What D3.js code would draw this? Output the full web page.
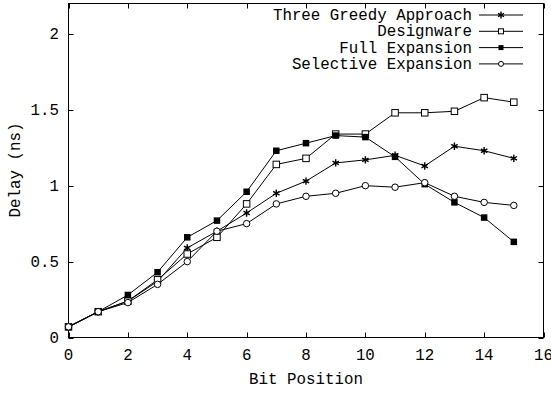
<!DOCTYPE html>
<html>
<head>
<meta charset="utf-8">
<script src="https://cdn.jsdelivr.net/npm/d3@7"></script>
<style>
  body { margin: 0; background: #fff; }
  svg text { font-family: "Liberation Mono", "DejaVu Sans Mono", monospace; fill: #000; }
</style>
</head>
<body>
<svg id="chart" width="551" height="394"></svg>
<script>
"use strict";

const bits = [0, 1, 2, 3, 4, 5, 6, 7, 8, 9, 10, 11, 12, 13, 14, 15];
const threeGreedy = [0.07, 0.17, 0.24, 0.37, 0.59, 0.70, 0.82, 0.95, 1.03, 1.15, 1.17, 1.20, 1.13, 1.26, 1.23, 1.18];
const designware = [0.07, 0.17, 0.24, 0.38, 0.55, 0.66, 0.88, 1.14, 1.18, 1.34, 1.34, 1.48, 1.48, 1.49, 1.58, 1.55];
const fullExpansion = [0.07, 0.17, 0.28, 0.43, 0.66, 0.77, 0.96, 1.23, 1.28, 1.33, 1.32, 1.19, 1.01, 0.89, 0.79, 0.63];
const selectiveExpansion = [0.07, 0.17, 0.23, 0.35, 0.50, 0.70, 0.75, 0.88, 0.93, 0.95, 1.00, 0.99, 1.02, 0.93, 0.89, 0.87];

const xTicks = [0, 2, 4, 6, 8, 10, 12, 14, 16];
const yTicks = [0, 0.5, 1, 1.5, 2];

const series = [
  { name: "Three Greedy Approach", values: threeGreedy, marker: "star" },
  { name: "Designware", values: designware, marker: "openSquare" },
  { name: "Full Expansion", values: fullExpansion, marker: "filledSquare" },
  { name: "Selective Expansion", values: selectiveExpansion, marker: "openCircle" }
];

const svg = d3.select("#chart");
const plotLeft = 68.5, plotRight = 543.5, plotTop = 3.5, plotBottom = 337.5;

const x = d3.scaleLinear().domain([0, 16]).range([plotLeft, plotRight]);
const y = d3.scaleLinear().domain([0, 2.2]).range([plotBottom, plotTop]);

const fontSize = 15.8;
const tickLen = 5;

// frame
svg.append("rect")
  .attr("x", plotLeft).attr("y", plotTop)
  .attr("width", plotRight - plotLeft).attr("height", plotBottom - plotTop)
  .attr("fill", "none").attr("stroke", "#000").attr("stroke-width", 1);

// x ticks (inside, mirrored on top)
const xt = svg.append("g");
xTicks.forEach(t => {
  const px = Math.round(x(t)) + 0.5;
  xt.append("line").attr("x1", px).attr("x2", px).attr("y1", plotBottom).attr("y2", plotBottom - tickLen).attr("stroke", "#000");
  xt.append("line").attr("x1", px).attr("x2", px).attr("y1", plotTop).attr("y2", plotTop + tickLen).attr("stroke", "#000");
  xt.append("text")
    .attr("x", x(t)).attr("y", 360)
    .attr("text-anchor", "middle")
    .style("font-size", fontSize + "px")
    .text(t);
});

const yt = svg.append("g");
yTicks.forEach(t => {
  const py = Math.round(y(t)) + 0.5;
  yt.append("line").attr("x1", plotLeft).attr("x2", plotLeft + tickLen).attr("y1", py).attr("y2", py).attr("stroke", "#000");
  yt.append("line").attr("x1", plotRight).attr("x2", plotRight - tickLen).attr("y1", py).attr("y2", py).attr("stroke", "#000");
  yt.append("text")
    .attr("x", 59).attr("y", y(t) + 5)
    .attr("text-anchor", "end")
    .style("font-size", fontSize + "px")
    .text(t);
});

// axis labels
svg.append("text")
  .attr("x", 306).attr("y", 384)
  .attr("text-anchor", "middle")
  .style("font-size", fontSize + "px")
  .text("Bit Position");

svg.append("text")
  .attr("transform", "translate(20, 170) rotate(-90)")
  .attr("text-anchor", "middle")
  .style("font-size", fontSize + "px")
  .text("Delay (ns)");

function drawMarker(g, kind, cx, cy, s) {
  const h = s / 2;
  if (kind === "star") {
    g.append("path")
      .attr("d", d3.symbol(d3.symbolAsterisk, s * s * 0.9)())
      .attr("transform", `translate(${cx},${cy})`)
      .attr("fill", "none").attr("stroke", "#000").attr("stroke-width", 1.4);
  } else if (kind === "openSquare") {
    g.append("rect")
      .attr("x", cx - h).attr("y", cy - h).attr("width", s).attr("height", s)
      .attr("fill", "#fff").attr("stroke", "#000").attr("stroke-width", 1);
  } else if (kind === "filledSquare") {
    g.append("rect")
      .attr("x", cx - h).attr("y", cy - h).attr("width", s).attr("height", s)
      .attr("fill", "#000");
  } else {
    g.append("circle")
      .attr("cx", cx).attr("cy", cy).attr("r", h)
      .attr("fill", "#fff").attr("stroke", "#000").attr("stroke-width", 1);
  }
}

const line = d3.line()
  .x((d, i) => x(bits[i]))
  .y(d => y(d));

series.forEach(s => {
  const g = svg.append("g");
  g.append("path")
    .attr("d", line(s.values))
    .attr("fill", "none").attr("stroke", "#000").attr("stroke-width", 1);
  s.values.forEach((v, i) => drawMarker(g, s.marker, x(bits[i]), y(v), 6.5));
});

// legend
const legend = svg.append("g");
series.forEach((s, i) => {
  const ly = 15 + i * 16.3;
  legend.append("text")
    .attr("x", 472).attr("y", ly + 5)
    .attr("text-anchor", "end")
    .style("font-size", fontSize + "px")
    .text(s.name);
  legend.append("line")
    .attr("x1", 479).attr("x2", 523).attr("y1", ly).attr("y2", ly)
    .attr("stroke", "#000");
  drawMarker(legend, s.marker, 501, ly, s.marker === "star" ? 6 : 5);
});
</script>
</body>
</html>
